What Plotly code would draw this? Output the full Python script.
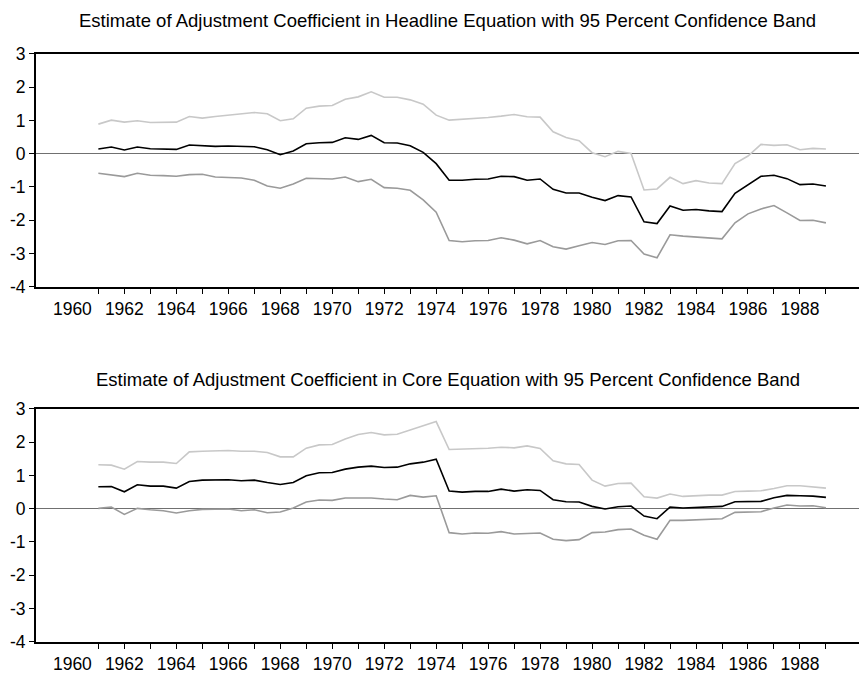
import plotly.graph_objects as go

# semiannual observations, 1961.0 .. 1989.0
years = [1961 + 0.5 * i for i in range(57)]

# ----------------------------- headline equation -----------------------------#
head_est = [0.14, 0.20, 0.11, 0.20, 0.15, 0.15, 0.13, 0.26, 0.23, 0.22,
            0.23, 0.23, 0.21, 0.12, -0.03, 0.08, 0.30, 0.33, 0.34, 0.48,
            0.43, 0.55, 0.33, 0.32, 0.24, 0.04, -0.30, -0.80, -0.80, -0.77,
            -0.76, -0.68, -0.69, -0.80, -0.76, -1.07, -1.18, -1.18, -1.31, -1.41,
            -1.26, -1.30, -2.05, -2.10, -1.57, -1.70, -1.68, -1.72, -1.74, -1.19,
            -0.94, -0.68, -0.65, -0.75, -0.93, -0.91, -0.97]
head_up = [0.89, 1.01, 0.95, 0.99, 0.94, 0.95, 0.95, 1.12, 1.07, 1.12,
           1.16, 1.18, 1.24, 1.20, 0.99, 1.05, 1.37, 1.43, 1.45, 1.64,
           1.71, 1.86, 1.70, 1.70, 1.62, 1.49, 1.16, 1.01, 1.03, 1.07,
           1.09, 1.13, 1.18, 1.11, 1.10, 0.66, 0.49, 0.39, 0.03, -0.09,
           0.07, 0.01, -1.09, -1.06, -0.71, -0.90, -0.81, -0.88, -0.90, -0.30,
           -0.07, 0.28, 0.25, 0.27, 0.12, 0.16, 0.14]
head_lo = [-0.59, -0.63, -0.69, -0.59, -0.65, -0.66, -0.68, -0.63, -0.62, -0.70,
           -0.72, -0.73, -0.80, -0.97, -1.04, -0.91, -0.74, -0.76, -0.76, -0.70,
           -0.84, -0.77, -1.02, -1.04, -1.10, -1.39, -1.76, -2.61, -2.65, -2.62,
           -2.61, -2.53, -2.60, -2.71, -2.61, -2.80, -2.87, -2.77, -2.67, -2.73,
           -2.62, -2.61, -3.02, -3.13, -2.44, -2.48, -2.51, -2.53, -2.56, -2.08,
           -1.81, -1.66, -1.56, -1.78, -2.01, -2.00, -2.08]

# ----------------------------- core equation -----------------------------#
core_est = [0.66, 0.67, 0.51, 0.72, 0.68, 0.68, 0.62, 0.82, 0.86, 0.86,
            0.87, 0.84, 0.86, 0.79, 0.73, 0.79, 0.99, 1.08, 1.09, 1.19,
            1.25, 1.28, 1.24, 1.25, 1.35, 1.40, 1.49, 0.53, 0.50, 0.52,
            0.52, 0.59, 0.53, 0.57, 0.55, 0.27, 0.21, 0.20, 0.07, -0.01,
            0.06, 0.08, -0.22, -0.30, 0.05, 0.02, 0.04, 0.06, 0.07, 0.21,
            0.22, 0.22, 0.33, 0.40, 0.39, 0.38, 0.34]
core_up = [1.32, 1.31, 1.19, 1.42, 1.40, 1.40, 1.36, 1.71, 1.73, 1.74,
           1.75, 1.73, 1.73, 1.69, 1.56, 1.56, 1.82, 1.92, 1.93, 2.10,
           2.23, 2.29, 2.22, 2.24, 2.37, 2.49, 2.62, 1.78, 1.79, 1.81,
           1.82, 1.85, 1.83, 1.89, 1.81, 1.44, 1.35, 1.33, 0.86, 0.68,
           0.76, 0.77, 0.36, 0.32, 0.44, 0.37, 0.40, 0.41, 0.41, 0.52,
           0.53, 0.54, 0.61, 0.69, 0.69, 0.65, 0.62]
core_lo = [0.01, 0.05, -0.17, 0.01, -0.03, -0.06, -0.13, -0.06, -0.02, -0.02,
           -0.01, -0.06, -0.03, -0.12, -0.10, 0.02, 0.20, 0.26, 0.25, 0.32,
           0.33, 0.32, 0.29, 0.27, 0.40, 0.35, 0.39, -0.72, -0.76, -0.73,
           -0.74, -0.69, -0.76, -0.75, -0.73, -0.92, -0.96, -0.93, -0.72, -0.70,
           -0.63, -0.61, -0.80, -0.92, -0.35, -0.35, -0.33, -0.30, -0.30, -0.11,
           -0.10, -0.09, 0.02, 0.11, 0.08, 0.09, 0.03]

titles = ['Estimate of Adjustment Coefficient in Headline Equation with 95 Percent Confidence Band',
          'Estimate of Adjustment Coefficient in Core Equation with 95 Percent Confidence Band']

tick_years = list(range(1961, 1990))
label_years = list(range(1960, 1989, 2))
y_ticks = list(range(-4, 4))
y_labels = [str(v) for v in y_ticks]   # plain hyphen, as in the original

FONT = 'Liberation Sans, Arial, sans-serif'
x_range = [1958.6, 1990.58]

fig = go.Figure()

# upper band sits on the label axes (x3 / x4) so those get drawn; same range as x / x2
panels = [(head_up, head_lo, head_est, 'x3', 'x', 'y'),
          (core_up, core_lo, core_est, 'x4', 'x2', 'y2')]
for up, lo, est, xl, xa, ya in panels:
    fig.add_trace(go.Scatter(x=years, y=up, mode='lines', xaxis=xl, yaxis=ya,
                             line=dict(color='#c8c8c8', width=1.6), showlegend=False))
    fig.add_trace(go.Scatter(x=years, y=lo, mode='lines', xaxis=xa, yaxis=ya,
                             line=dict(color='#9a9a9a', width=1.6), showlegend=False))
    fig.add_trace(go.Scatter(x=years, y=est, mode='lines', xaxis=xa, yaxis=ya,
                             line=dict(color='black', width=1.6), showlegend=False))

# axis with tick marks only
tick_axis = dict(range=x_range, tickvals=tick_years, showticklabels=False,
                 ticks='outside', ticklen=5, tickwidth=1, tickcolor='black',
                 showline=True, linecolor='black', linewidth=2, mirror=True,
                 showgrid=False, zeroline=False, automargin=False)
# overlay axis with the labels only
label_axis = dict(range=x_range, tickvals=label_years, ticktext=[str(v) for v in label_years],
                  ticks='', showline=False, showgrid=False, zeroline=False, automargin=False,
                  ticklabelstandoff=10,
                  tickfont=dict(family=FONT, size=17.5, color='black'))
y_axis = dict(range=[-4, 3], tickvals=y_ticks, ticktext=y_labels, ticks='outside', ticklen=5,
              tickwidth=1, tickcolor='black', showline=True, linecolor='black', linewidth=2,
              showgrid=False, zeroline=True, zerolinecolor='#707070', zerolinewidth=1,
              automargin=False,
              tickfont=dict(family=FONT, size=17.5, color='black'))

# page body adds an 8px offset, so the figure is laid out 8px up/left of the target
fig.update_layout(
    width=867, height=673,
    margin=dict(l=28, r=8, t=0, b=0),
    plot_bgcolor='white', paper_bgcolor='white',
    xaxis=dict(tick_axis, anchor='y'),
    yaxis=dict(y_axis, domain=[0.5859, 0.9317], anchor='x'),
    xaxis2=dict(tick_axis, anchor='y2'),
    yaxis2=dict(y_axis, domain=[0.0584, 0.4042], anchor='x2'),
    xaxis3=dict(label_axis, overlaying='x', anchor='y'),
    xaxis4=dict(label_axis, overlaying='x2', anchor='y2'),
    annotations=[
        dict(text=titles[0], xref='paper', yref='paper', x=0.4952, y=1.0,
             xanchor='center', yanchor='top', showarrow=False,
             font=dict(family=FONT, size=18.5, color='black')),
        dict(text=titles[1], xref='paper', yref='paper', x=0.4952, y=0.4473,
             xanchor='center', yanchor='middle', showarrow=False,
             font=dict(family=FONT, size=18.5, color='black')),
    ],
)

fig.write_html("out.html")
